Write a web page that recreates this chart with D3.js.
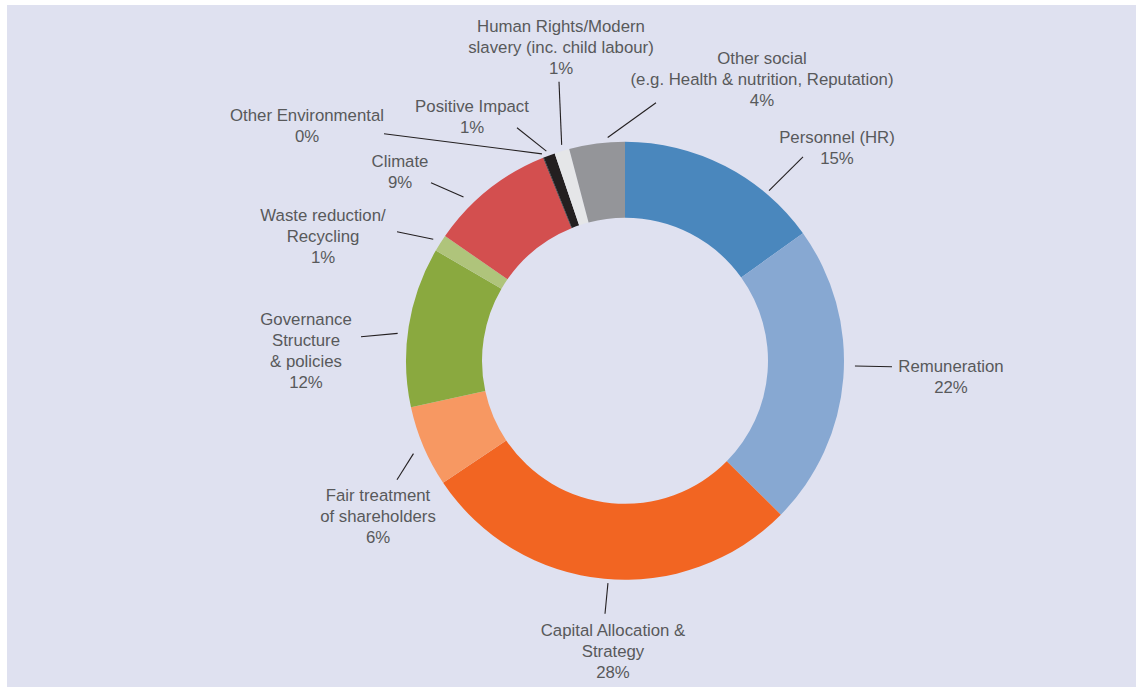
<!DOCTYPE html>
<html>
<head>
<meta charset="utf-8">
<script src="https://cdn.jsdelivr.net/npm/d3@7"></script>
<style>
  html, body { margin: 0; padding: 0; background: #ffffff; }
  #chart { width: 1136px; height: 687px; }
  text { font-family: "Liberation Sans", Arial, sans-serif; }
</style>
</head>
<body>
<div id="chart"></div>
<script>
// Slice data (clockwise from 12 o'clock)
const categories = [
  'Personnel (HR)', 'Remuneration', 'Capital Allocation & Strategy', 'Fair treatment of shareholders',
  'Governance Structure & policies', 'Waste reduction/Recycling', 'Climate', 'Other Environmental',
  'Positive Impact', 'Human Rights/Modern slavery (inc. child labour)', 'Other social'
];
const values     = [15.1, 22.3, 28.2, 6.0, 11.8, 1.25, 9.25, 0.05, 0.85, 1.1, 4.1];
const pctLabels  = ['15%', '22%', '28%', '6%', '12%', '1%', '9%', '0%', '1%', '1%', '4%'];
const labelLines = [
  ['Personnel (HR)'],
  ['Remuneration'],
  ['Capital Allocation &', 'Strategy'],
  ['Fair treatment', 'of shareholders'],
  ['Governance', 'Structure', '& policies'],
  ['Waste reduction/', 'Recycling'],
  ['Climate'],
  ['Other Environmental'],
  ['Positive Impact'],
  ['Human Rights/Modern', 'slavery (inc. child labour)'],
  ['Other social', '(e.g. Health & nutrition, Reputation)']
];
const colors = ['#4a87bd', '#87a8d2', '#f26522', '#f79862', '#8aa93f', '#afc47b',
                '#d34f4f', '#231f20', '#231f20', '#e5e6e8', '#949599'];

// Label layout: where along the slice the leader starts (t), radial gap,
// leader end and text anchor relative to the donut centre
const labelLayout = [
  {t: 0.74, gap: 4,  ex: 178,  ey: -204, tx: 212,  ty: -218},
  {t: 0.46, gap: 11, ex: 267,  ey: 6,    tx: 326,  ty: 11},
  {t: 0.49, gap: 4,  ex: -20,  ey: 253,  tx: -12,  ty: 275},
  {t: 0.47, gap: 12, ex: -228, ey: 119,  tx: -247, ty: 140},
  {t: 0.45, gap: 10, ex: -264, ey: -24,  tx: -319, ty: -36},
  {t: 0.47, gap: 8,  ex: -228, ey: -129, tx: -302, ty: -140},
  {t: 0.32, gap: 11, ex: -194, ey: -178, tx: -225, ty: -194},
  {t: 0.5,  gap: 4,  ex: -241, ey: -227, tx: -318, ty: -240},
  {t: 0.4,  gap: 5,  ex: -108, ey: -233, tx: -153, ty: -249},
  {t: 0.6,  gap: 6,  ex: -66,  ey: -279, tx: -64,  ty: -329},
  {t: 0.7,  gap: 5,  ex: 31,   ey: -258, tx: 137,  ty: -297}
];

const width   = 1136;
const height  = 687;
const cx      = 625;
const cy      = 360.8;
const outerR  = 219;
const innerR  = 143;
const lineH   = 21;

const data = categories.map((c, i) => ({
  category: c, value: values[i], pct: pctLabels[i], lines: labelLines[i],
  color: colors[i], layout: labelLayout[i]
}));

const svg = d3.select('#chart')
  .append('svg')
  .attr('width', width)
  .attr('height', height);

// panel background
svg.append('rect')
  .attr('x', 7)
  .attr('y', 5)
  .attr('width', width - 7)
  .attr('height', height - 5)
  .attr('fill', '#dfe1f0');

const g = svg.append('g')
  .attr('transform', `translate(${cx}, ${cy})`);

const pie = d3.pie()
  .sort(null)
  .value(d => d.value);

const arc = d3.arc()
  .innerRadius(innerR)
  .outerRadius(outerR);

const arcs = pie(data);

g.selectAll('path.slice')
  .data(arcs)
  .enter()
  .append('path')
    .attr('class', 'slice')
    .attr('d', arc)
    .attr('fill', d => d.data.color);

// leader lines
function polar(angle, r) {
  return [Math.sin(angle) * r, -Math.cos(angle) * r];
}

g.selectAll('line.leader')
  .data(arcs)
  .enter()
  .append('line')
    .attr('class', 'leader')
    .each(function(d) {
      const L = d.data.layout;
      const a = d.startAngle + L.t * (d.endAngle - d.startAngle);
      const p = polar(a, outerR + L.gap);
      d3.select(this)
        .attr('x1', p[0]).attr('y1', p[1])
        .attr('x2', L.ex).attr('y2', L.ey);
    })
    .attr('stroke', '#231f20')
    .attr('stroke-width', 1.1);

// labels
const labels = g.selectAll('text.label')
  .data(arcs)
  .enter()
  .append('text')
    .attr('class', 'label')
    .attr('x', d => d.data.layout.tx)
    .attr('y', d => d.data.layout.ty)
    .attr('text-anchor', 'middle')
    .style('font-size', '16.8px')
    .style('fill', '#58595b');

labels.each(function(d) {
  const t = d3.select(this);
  const lines = d.data.lines.concat([d.data.pct]);
  lines.forEach((s, i) => {
    t.append('tspan')
      .attr('x', d.data.layout.tx)
      .attr('dy', i === 0 ? 0 : lineH)
      .text(s);
  });
});
</script>
</body>
</html>
